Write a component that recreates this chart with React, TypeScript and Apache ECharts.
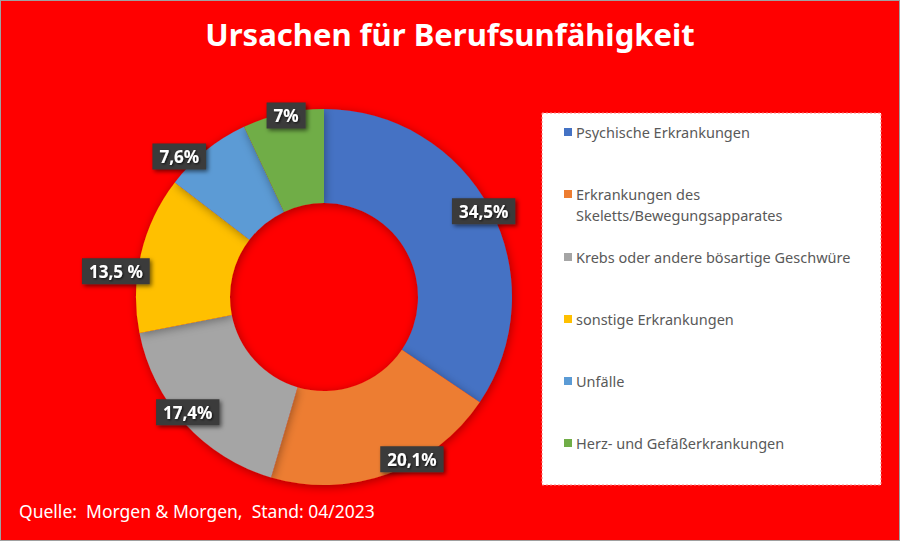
import React, { useEffect, useRef } from "react";
import * as echarts from "echarts";

const categories = [
  "Psychische Erkrankungen",
  "Erkrankungen des Skeletts/Bewegungsapparates",
  "Krebs oder andere bösartige Geschwüre",
  "sonstige Erkrankungen",
  "Unfälle",
  "Herz- und Gefäßerkrankungen",
];
const legendTexts = [
  "Psychische Erkrankungen",
  "Erkrankungen des\nSkeletts/Bewegungsapparates",
  "Krebs oder andere bösartige Geschwüre",
  "sonstige Erkrankungen",
  "Unfälle",
  "Herz- und Gefäßerkrankungen",
];
const values = [34.5, 20.1, 17.4, 13.5, 7.6, 7];
const valueLabels = ["34,5%", "20,1%", "17,4%", "13,5 %", "7,6%", "7%"];
const colors = ["#4472C4", "#ED7D31", "#A5A5A5", "#FFC000", "#5B9BD5", "#70AD47"];

const FONT = "'Noto Sans', sans-serif";

export default function App() {
  const ref = useRef<HTMLDivElement>(null);
  useEffect(() => {
    if (!ref.current) return;
    const chart = echarts.init(ref.current, undefined, { renderer: "svg" });
    const center = [323, 296];
    const labelShift = [
      [-2, 0],
      [26, -10],
      [-1, -8],
      [-30, 16],
      [-30, 2],
      [2, -3],
    ];
    const legends = categories.map((name, i) => {
      const twoLine = i === 1;
      const lh = 21;
      const top = i === 0 ? 131 - lh / 2 : i === 1 ? 193 - lh / 2 : 256 + (i - 2) * 62 - lh / 2;
      return {
        data: [name],
        orient: "vertical",
        left: 563,
        top,
        padding: 0,
        itemWidth: 8,
        itemHeight: twoLine ? 42 : 8,
        icon: twoLine
          ? "path://M0,0H0.01V0.01H0Z M0,6.5H8V14.5H0Z M0,41.99H0.01V42H0Z"
          : "rect",
        selectedMode: false,
        formatter: () => legendTexts[i],
        textStyle: {
          color: "#595959",
          fontSize: 14.5,
          fontFamily: FONT,
          lineHeight: lh,
          padding: [0, 0, 0, -1],
        },
      };
    });
    chart.setOption({
      animation: false,
      backgroundColor: "#FF0000",
      color: colors,
      title: [
        {
          text: "Ursachen für Berufsunfähigkeit",
          left: "center",
          top: 12,
          textStyle: {
            color: "#FFFFFF",
            fontSize: 31,
            fontWeight: "bold",
            fontFamily: FONT,
          },
        },
        {
          text: "Quelle:  Morgen & Morgen,  Stand: 04/2023",
          left: 18,
          top: 501,
          padding: 0,
          textStyle: {
            color: "#FFFFFF",
            fontSize: 17.5,
            fontWeight: "normal",
            fontFamily: FONT,
          },
        },
      ],
      graphic: [
        {
          type: "rect",
          shape: { x: 541, y: 112, width: 339, height: 372 },
          style: { fill: "#FFFFFF", stroke: "#FF8080", lineWidth: 1, lineDash: [2, 2] },
          z: -1,
        },
      ],
      legend: legends,
      series: [
        {
          type: "pie",
          name: "main",
          center,
          radius: [94, 188],
          startAngle: 90,
          clockwise: true,
          silent: true,
          label: { show: false },
          labelLine: { show: false },
          itemStyle: {
            shadowBlur: 10,
            shadowColor: "rgba(0,0,0,0.35)",
            shadowOffsetX: 1,
            shadowOffsetY: 2,
          },
          data: categories.map((name, i) => ({ name, value: values[i] })),
        },
        {
          type: "pie",
          name: "labels",
          center,
          radius: [170, 190],
          startAngle: 90,
          clockwise: true,
          silent: true,
          z: 5,
          legendHoverLink: false,
          itemStyle: { color: "rgba(0,0,0,0)" },
          labelLine: { show: false },
          labelLayout: (p: any) => ({
            dx: labelShift[p.dataIndex][0],
            dy: labelShift[p.dataIndex][1],
          }),
          label: {
            show: true,
            position: "inside",
            formatter: (p: any) => valueLabels[p.dataIndex],
            color: "#FFFFFF",
            fontSize: 17,
            fontWeight: "bold",
            fontFamily: FONT,
            backgroundColor: "#3A3A3A",
            padding: [5, 7, 4, 7],
            shadowBlur: 4,
            shadowOffsetX: 2,
            shadowOffsetY: 2,
            shadowColor: "rgba(0,0,0,0.55)",
            textShadowColor: "rgba(0,0,0,0.8)",
            textShadowBlur: 2,
            textShadowOffsetX: 1,
            textShadowOffsetY: 1,
          },
          data: categories.map((name, i) => ({ name, value: values[i] })),
        },
      ],
    });
    return () => chart.dispose();
  }, []);
  return (
    <div
      ref={ref}
      style={{
        position: "fixed",
        left: 0,
        top: 0,
        width: 900,
        height: 541,
        boxSizing: "border-box",
        border: "1px solid #A0A0A0",
      }}
    />
  );
}
